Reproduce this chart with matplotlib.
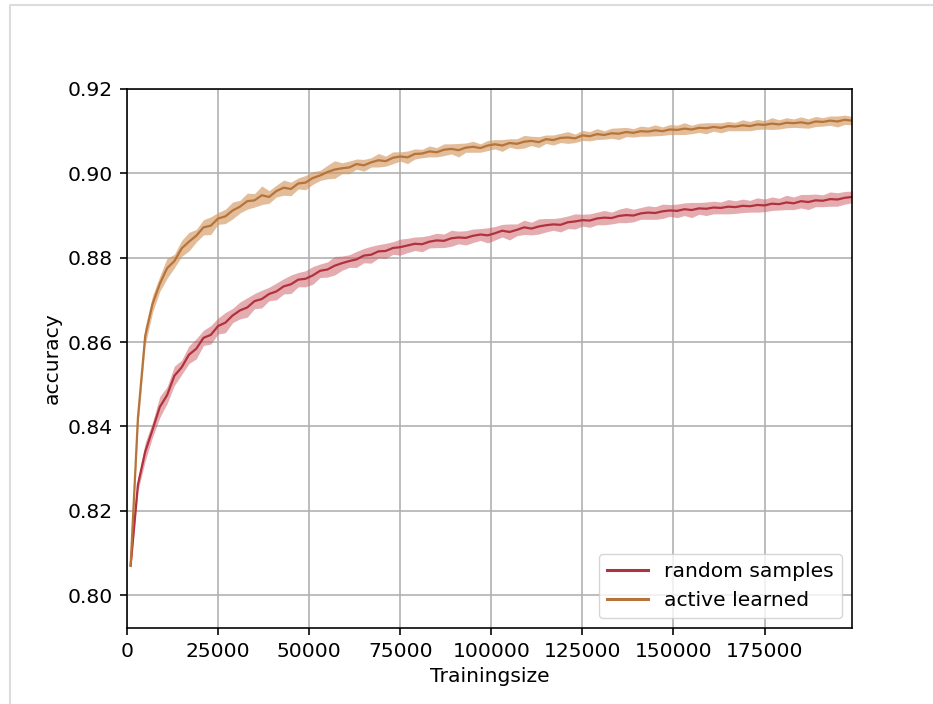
import matplotlib
matplotlib.use('Agg')
import matplotlib.pyplot as plt
import numpy as np
from matplotlib.lines import Line2D

# training set sizes (one evaluation every 2000 samples)
train_size = list(range(1000, 200000, 2000))

# mean accuracy, random sampling
random_mean = [
    0.8070, 0.8262, 0.8340, 0.8392, 0.8446, 0.8474, 0.8520, 0.8540, 0.8570, 0.8584,
    0.8610, 0.8617, 0.8638, 0.8646, 0.8663, 0.8675, 0.8682, 0.8697, 0.8702, 0.8714,
    0.8720, 0.8732, 0.8737, 0.8748, 0.8750, 0.8758, 0.8769, 0.8772, 0.8781, 0.8787,
    0.8792, 0.8796, 0.8805, 0.8807, 0.8815, 0.8816, 0.8823, 0.8825, 0.8829, 0.8833,
    0.8832, 0.8838, 0.8841, 0.8840, 0.8846, 0.8848, 0.8847, 0.8852, 0.8855, 0.8853,
    0.8858, 0.8864, 0.8861, 0.8866, 0.8872, 0.8869, 0.8874, 0.8877, 0.8879, 0.8878,
    0.8884, 0.8886, 0.8889, 0.8888, 0.8893, 0.8895, 0.8894, 0.8899, 0.8901, 0.8900,
    0.8905, 0.8907, 0.8906, 0.8910, 0.8912, 0.8911, 0.8915, 0.8913, 0.8917, 0.8916,
    0.8919, 0.8918, 0.8921, 0.8920, 0.8923, 0.8922, 0.8925, 0.8924, 0.8928, 0.8927,
    0.8931, 0.8929, 0.8934, 0.8932, 0.8936, 0.8935, 0.8939, 0.8938, 0.8942, 0.8944,
]
# spread (half width of band), random sampling
random_spread = [
    0.0008, 0.0015, 0.0022, 0.0018, 0.0025, 0.0020, 0.0023, 0.0017, 0.0021, 0.0024,
    0.0018, 0.0022, 0.0019, 0.0024, 0.0017, 0.0020, 0.0023, 0.0018, 0.0021, 0.0016,
    0.0020, 0.0018, 0.0022, 0.0017, 0.0019, 0.0021, 0.0016, 0.0018, 0.0022, 0.0017,
    0.0015, 0.0019, 0.0017, 0.0020, 0.0016, 0.0018, 0.0015, 0.0019, 0.0017, 0.0016,
    0.0018, 0.0015, 0.0017, 0.0016, 0.0019, 0.0015, 0.0017, 0.0016, 0.0014, 0.0018,
    0.0016, 0.0015, 0.0019, 0.0014, 0.0017, 0.0015, 0.0018, 0.0016, 0.0014, 0.0017,
    0.0015, 0.0018, 0.0014, 0.0016, 0.0015, 0.0017, 0.0014, 0.0016, 0.0018, 0.0015,
    0.0014, 0.0016, 0.0015, 0.0017, 0.0014, 0.0016, 0.0015, 0.0018, 0.0014, 0.0016,
    0.0015, 0.0014, 0.0017, 0.0015, 0.0016, 0.0014, 0.0017, 0.0015, 0.0016, 0.0014,
    0.0017, 0.0015, 0.0016, 0.0018, 0.0015, 0.0014, 0.0017, 0.0016, 0.0015, 0.0014,
]

# mean accuracy, active learning
active_mean = [
    0.8070, 0.8420, 0.8615, 0.8690, 0.8738, 0.8775, 0.8792, 0.8822, 0.8838, 0.8852,
    0.8872, 0.8876, 0.8893, 0.8898, 0.8912, 0.8921, 0.8934, 0.8936, 0.8948, 0.8944,
    0.8958, 0.8966, 0.8963, 0.8976, 0.8978, 0.8989, 0.8995, 0.9003, 0.9009, 0.9012,
    0.9014, 0.9022, 0.9019, 0.9026, 0.9031, 0.9029, 0.9037, 0.9040, 0.9038, 0.9046,
    0.9047, 0.9052, 0.9050, 0.9056, 0.9058, 0.9055, 0.9061, 0.9063, 0.9060, 0.9066,
    0.9069, 0.9066, 0.9072, 0.9070, 0.9075, 0.9077, 0.9074, 0.9081, 0.9079, 0.9084,
    0.9085, 0.9083, 0.9090, 0.9088, 0.9093, 0.9091, 0.9095, 0.9094, 0.9098, 0.9096,
    0.9100, 0.9099, 0.9102, 0.9100, 0.9104, 0.9103, 0.9106, 0.9104, 0.9108, 0.9107,
    0.9110, 0.9108, 0.9112, 0.9111, 0.9114, 0.9112, 0.9116, 0.9115, 0.9118, 0.9116,
    0.9120, 0.9119, 0.9121, 0.9118, 0.9123, 0.9122, 0.9125, 0.9123, 0.9127, 0.9125,
]
active_spread = [
    0.0008, 0.0020, 0.0022, 0.0020, 0.0018, 0.0024, 0.0016, 0.0019, 0.0022, 0.0015,
    0.0018, 0.0021, 0.0014, 0.0017, 0.0020, 0.0015, 0.0019, 0.0016, 0.0022, 0.0015,
    0.0014, 0.0018, 0.0016, 0.0013, 0.0017, 0.0015, 0.0012, 0.0016, 0.0021, 0.0013,
    0.0015, 0.0012, 0.0014, 0.0011, 0.0016, 0.0012, 0.0014, 0.0011, 0.0015, 0.0012,
    0.0010, 0.0013, 0.0011, 0.0014, 0.0012, 0.0016, 0.0011, 0.0013, 0.0010, 0.0012,
    0.0011, 0.0014, 0.0010, 0.0012, 0.0015, 0.0011, 0.0013, 0.0010, 0.0012, 0.0011,
    0.0014, 0.0010, 0.0012, 0.0011, 0.0013, 0.0010, 0.0012, 0.0014, 0.0011, 0.0010,
    0.0012, 0.0011, 0.0013, 0.0010, 0.0012, 0.0011, 0.0014, 0.0010, 0.0011, 0.0013,
    0.0010, 0.0012, 0.0011, 0.0010, 0.0013, 0.0011, 0.0012, 0.0010, 0.0014, 0.0011,
    0.0012, 0.0010, 0.0013, 0.0011, 0.0012, 0.0010, 0.0011, 0.0013, 0.0011, 0.0010,
]

# scaled-up default style
s = 1.46
plt.rcParams.update({
    'font.size': 10 * s,
    'axes.linewidth': 0.8 * s,
    'grid.linewidth': 0.8 * s,
    'xtick.major.size': 3.5 * s,
    'ytick.major.size': 3.5 * s,
    'xtick.major.width': 0.8 * s,
    'ytick.major.width': 0.8 * s,
    'xtick.major.pad': 3.5 * s,
    'ytick.major.pad': 3.5 * s,
    'lines.linewidth': 1.6,
})

fig = plt.figure(figsize=(9.33, 7.04), dpi=100)
ax = fig.add_axes([127 / 933, 1 - 628 / 704, 725 / 933, 539 / 704])

x = np.array(train_size)
rm = np.array(random_mean)
rs = np.array(random_spread)
am = np.array(active_mean)
asp = np.array(active_spread)

ax.fill_between(x, rm - rs, rm + rs, color='#cc5a63', alpha=0.5, lw=0)
ax.plot(x, rm, color='#b0323e', label='random samples')
ax.fill_between(x, am - asp, am + asp, color='#d49a63', alpha=0.65, lw=0)
ax.plot(x, am, color='#b6743a', label='active learned')

ax.set_xlim(0, 199000)
ax.set_ylim(0.7922, 0.92)
ax.set_xticks([0, 25000, 50000, 75000, 100000, 125000, 150000, 175000])
ax.set_yticks([0.80, 0.82, 0.84, 0.86, 0.88, 0.90, 0.92])
ax.grid(True, color='#b0b0b0')
ax.set_axisbelow(True)
ax.set_xlabel('Trainingsize')
ax.set_ylabel('accuracy')
leg = ax.legend(loc='lower right')
for line in leg.get_lines():
    line.set_linewidth(1.5 * s)

# screenshot frame
fig.add_artist(Line2D([10 / 933, 10 / 933, 1.0], [0.0, 1 - 5 / 704, 1 - 5 / 704],
                      transform=fig.transFigure, color='#dcdcdc', lw=1.5))

fig.savefig('out.png', dpi=100)
